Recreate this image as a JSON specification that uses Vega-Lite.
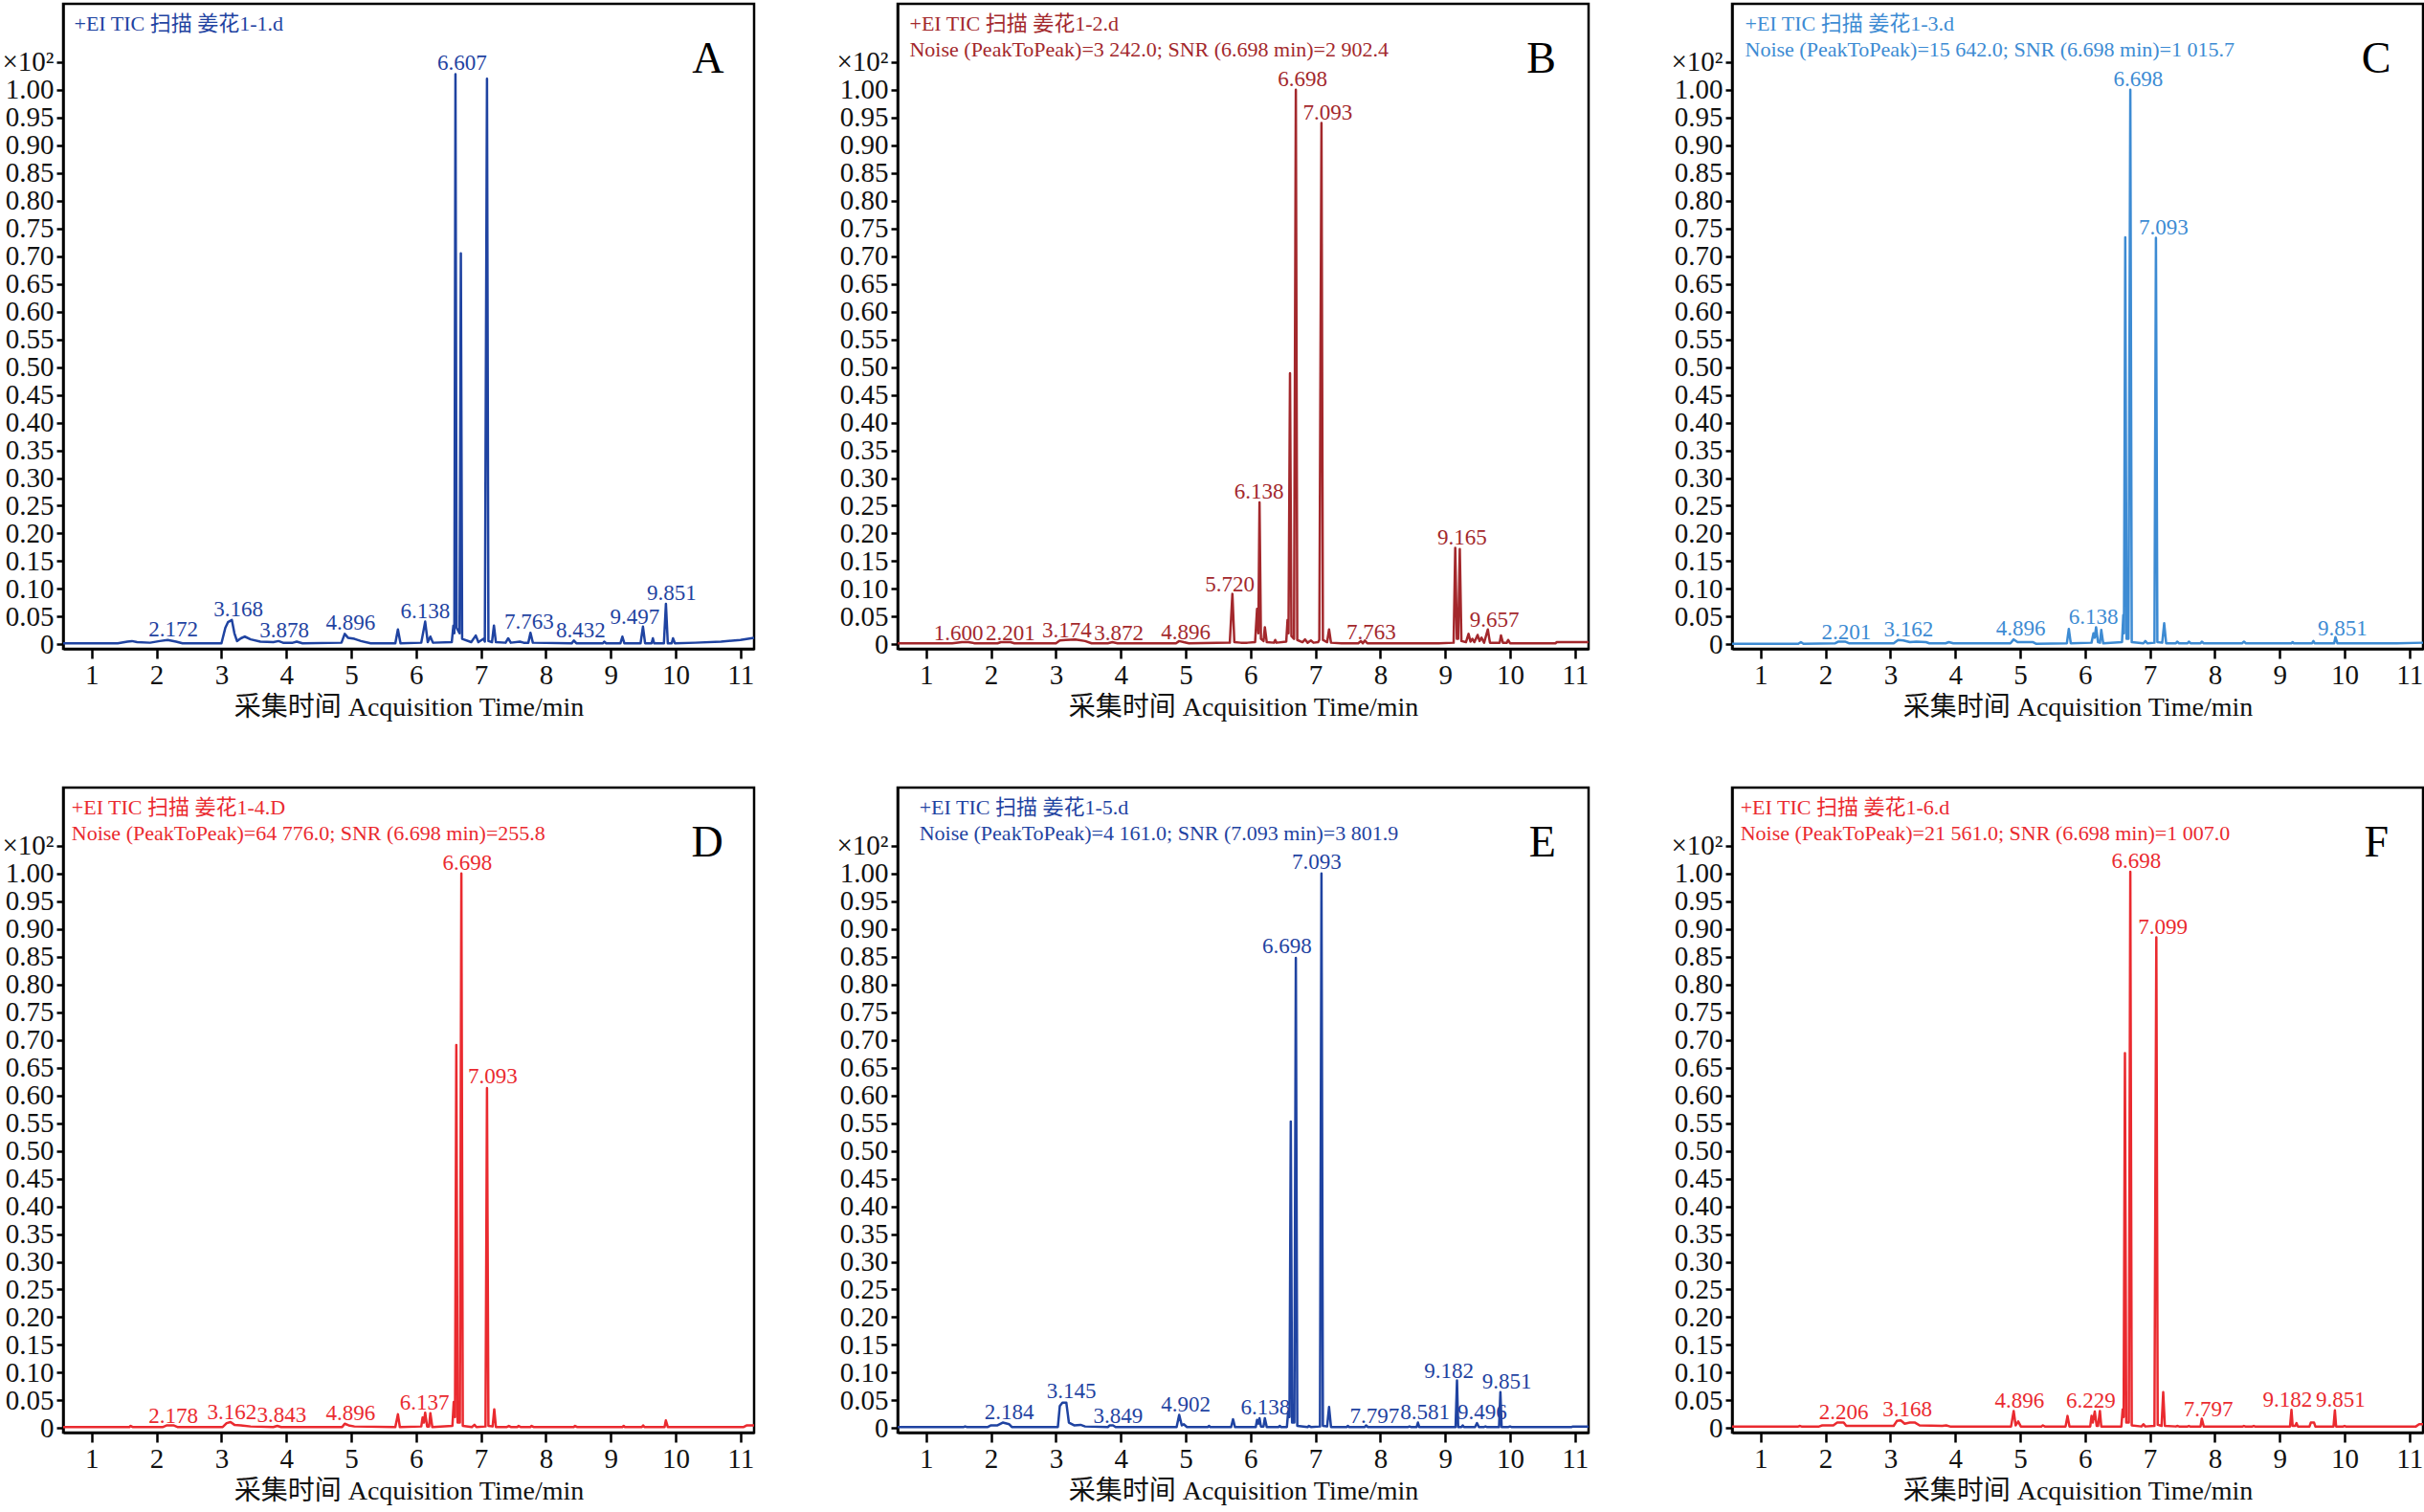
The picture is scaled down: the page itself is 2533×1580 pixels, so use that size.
{
  "$schema": "https://vega.github.io/schema/vega-lite/v6.json",
  "background": "white",
  "padding": {"left": 0, "top": 2, "right": 2, "bottom": 0},
  "datasets": {
    "trace": [
      {"p":"A","t":0.56,"y":0.002},{"p":"A","t":1.4,"y":0.002},{"p":"A","t":1.55,"y":0.005},{"p":"A","t":1.62,"y":0.006},{"p":"A","t":1.7,"y":0.004},{"p":"A","t":1.9,"y":0.003},{"p":"A","t":2.05,"y":0.006},{"p":"A","t":2.17,"y":0.008},{"p":"A","t":2.3,"y":0.005},{"p":"A","t":2.4,"y":0.002},
      {"p":"A","t":3.0,"y":0.002},{"p":"A","t":3.06,"y":0.03},{"p":"A","t":3.1,"y":0.04},{"p":"A","t":3.16,"y":0.044},{"p":"A","t":3.2,"y":0.02},{"p":"A","t":3.24,"y":0.006},{"p":"A","t":3.3,"y":0.011},{"p":"A","t":3.36,"y":0.014},{"p":"A","t":3.45,"y":0.009},{"p":"A","t":3.6,"y":0.005},
      {"p":"A","t":3.8,"y":0.004},{"p":"A","t":3.88,"y":0.006},{"p":"A","t":3.95,"y":0.003},{"p":"A","t":4.1,"y":0.003},{"p":"A","t":4.16,"y":0.005},{"p":"A","t":4.25,"y":0.002},{"p":"A","t":4.85,"y":0.003},{"p":"A","t":4.9,"y":0.019},{"p":"A","t":4.95,"y":0.012},{"p":"A","t":5.05,"y":0.01},
      {"p":"A","t":5.15,"y":0.006},{"p":"A","t":5.3,"y":0.002},{"p":"A","t":5.68,"y":0.002},{"p":"A","t":5.72,"y":0.027},{"p":"A","t":5.76,"y":0.002},{"p":"A","t":6.08,"y":0.003},{"p":"A","t":6.14,"y":0.041},{"p":"A","t":6.18,"y":0.004},{"p":"A","t":6.22,"y":0.014},{"p":"A","t":6.26,"y":0.003},
      {"p":"A","t":6.55,"y":0.004},{"p":"A","t":6.575,"y":0.034},{"p":"A","t":6.59,"y":0.02},{"p":"A","t":6.607,"y":1.028},{"p":"A","t":6.625,"y":0.03},{"p":"A","t":6.67,"y":0.02},{"p":"A","t":6.69,"y":0.705},{"p":"A","t":6.71,"y":0.01},{"p":"A","t":6.85,"y":0.004},{"p":"A","t":6.92,"y":0.016},
      {"p":"A","t":6.96,"y":0.004},{"p":"A","t":7.04,"y":0.01},{"p":"A","t":7.06,"y":0.005},{"p":"A","t":7.093,"y":1.02},{"p":"A","t":7.115,"y":0.006},{"p":"A","t":7.17,"y":0.004},{"p":"A","t":7.2,"y":0.034},{"p":"A","t":7.23,"y":0.004},{"p":"A","t":7.38,"y":0.003},{"p":"A","t":7.42,"y":0.011},
      {"p":"A","t":7.46,"y":0.003},{"p":"A","t":7.6,"y":0.005},{"p":"A","t":7.66,"y":0.003},{"p":"A","t":7.73,"y":0.003},{"p":"A","t":7.763,"y":0.021},{"p":"A","t":7.8,"y":0.003},{"p":"A","t":8.4,"y":0.002},{"p":"A","t":8.432,"y":0.007},{"p":"A","t":8.47,"y":0.002},{"p":"A","t":8.88,"y":0.002},
      {"p":"A","t":8.9,"y":0.005},{"p":"A","t":8.93,"y":0.002},{"p":"A","t":9.15,"y":0.002},{"p":"A","t":9.18,"y":0.014},{"p":"A","t":9.21,"y":0.002},{"p":"A","t":9.46,"y":0.002},{"p":"A","t":9.497,"y":0.032},{"p":"A","t":9.53,"y":0.002},{"p":"A","t":9.63,"y":0.002},{"p":"A","t":9.65,"y":0.011},
      {"p":"A","t":9.67,"y":0.002},{"p":"A","t":9.82,"y":0.002},{"p":"A","t":9.851,"y":0.073},{"p":"A","t":9.88,"y":0.002},{"p":"A","t":9.94,"y":0.002},{"p":"A","t":9.96,"y":0.011},{"p":"A","t":9.99,"y":0.002},{"p":"A","t":10.3,"y":0.003},{"p":"A","t":10.7,"y":0.005},{"p":"A","t":11.0,"y":0.008},{"p":"A","t":11.21,"y":0.012},

      {"p":"B","t":0.56,"y":0.002},{"p":"B","t":1.4,"y":0.002},{"p":"B","t":1.55,"y":0.004},{"p":"B","t":1.65,"y":0.004},{"p":"B","t":1.75,"y":0.002},{"p":"B","t":2.1,"y":0.002},{"p":"B","t":2.15,"y":0.004},{"p":"B","t":2.3,"y":0.004},{"p":"B","t":2.36,"y":0.002},{"p":"B","t":3.0,"y":0.002},
      {"p":"B","t":3.06,"y":0.007},{"p":"B","t":3.15,"y":0.008},{"p":"B","t":3.3,"y":0.009},{"p":"B","t":3.45,"y":0.006},{"p":"B","t":3.55,"y":0.002},{"p":"B","t":3.8,"y":0.002},{"p":"B","t":3.87,"y":0.004},{"p":"B","t":3.95,"y":0.002},{"p":"B","t":4.85,"y":0.002},{"p":"B","t":4.9,"y":0.006},
      {"p":"B","t":4.97,"y":0.004},{"p":"B","t":5.05,"y":0.002},{"p":"B","t":5.68,"y":0.003},{"p":"B","t":5.72,"y":0.091},{"p":"B","t":5.75,"y":0.004},{"p":"B","t":5.85,"y":0.003},{"p":"B","t":5.95,"y":0.003},{"p":"B","t":6.07,"y":0.004},{"p":"B","t":6.1,"y":0.064},{"p":"B","t":6.12,"y":0.02},
      {"p":"B","t":6.138,"y":0.256},{"p":"B","t":6.16,"y":0.01},{"p":"B","t":6.2,"y":0.006},{"p":"B","t":6.22,"y":0.031},{"p":"B","t":6.25,"y":0.004},{"p":"B","t":6.36,"y":0.003},{"p":"B","t":6.38,"y":0.008},{"p":"B","t":6.4,"y":0.003},{"p":"B","t":6.55,"y":0.005},{"p":"B","t":6.57,"y":0.044},
      {"p":"B","t":6.585,"y":0.02},{"p":"B","t":6.608,"y":0.489},{"p":"B","t":6.63,"y":0.015},{"p":"B","t":6.67,"y":0.01},{"p":"B","t":6.698,"y":1.0},{"p":"B","t":6.72,"y":0.008},{"p":"B","t":6.8,"y":0.004},{"p":"B","t":6.84,"y":0.009},{"p":"B","t":6.88,"y":0.003},{"p":"B","t":6.93,"y":0.007},
      {"p":"B","t":6.97,"y":0.003},{"p":"B","t":7.04,"y":0.004},{"p":"B","t":7.06,"y":0.008},{"p":"B","t":7.093,"y":0.94},{"p":"B","t":7.115,"y":0.008},{"p":"B","t":7.18,"y":0.004},{"p":"B","t":7.21,"y":0.027},{"p":"B","t":7.24,"y":0.003},{"p":"B","t":7.4,"y":0.002},{"p":"B","t":7.66,"y":0.002},
      {"p":"B","t":7.7,"y":0.006},{"p":"B","t":7.73,"y":0.002},{"p":"B","t":7.763,"y":0.007},{"p":"B","t":7.8,"y":0.002},{"p":"B","t":8.9,"y":0.002},{"p":"B","t":9.13,"y":0.003},{"p":"B","t":9.155,"y":0.174},{"p":"B","t":9.18,"y":0.01},{"p":"B","t":9.2,"y":0.01},{"p":"B","t":9.225,"y":0.172},
      {"p":"B","t":9.25,"y":0.006},{"p":"B","t":9.32,"y":0.004},{"p":"B","t":9.36,"y":0.019},{"p":"B","t":9.39,"y":0.005},{"p":"B","t":9.42,"y":0.01},{"p":"B","t":9.45,"y":0.004},{"p":"B","t":9.5,"y":0.017},{"p":"B","t":9.53,"y":0.006},{"p":"B","t":9.56,"y":0.012},{"p":"B","t":9.6,"y":0.003},
      {"p":"B","t":9.657,"y":0.027},{"p":"B","t":9.69,"y":0.003},{"p":"B","t":9.84,"y":0.003},{"p":"B","t":9.86,"y":0.016},{"p":"B","t":9.89,"y":0.003},{"p":"B","t":9.95,"y":0.003},{"p":"B","t":9.97,"y":0.008},{"p":"B","t":10.0,"y":0.002},{"p":"B","t":10.7,"y":0.002},{"p":"B","t":10.72,"y":0.004},{"p":"B","t":11.21,"y":0.004},

      {"p":"C","t":0.56,"y":0.001},{"p":"C","t":1.58,"y":0.001},{"p":"C","t":1.62,"y":0.004},{"p":"C","t":1.66,"y":0.001},{"p":"C","t":2.15,"y":0.002},{"p":"C","t":2.2,"y":0.005},{"p":"C","t":2.3,"y":0.005},{"p":"C","t":2.36,"y":0.002},{"p":"C","t":3.05,"y":0.002},{"p":"C","t":3.12,"y":0.008},
      {"p":"C","t":3.2,"y":0.007},{"p":"C","t":3.3,"y":0.004},{"p":"C","t":3.4,"y":0.005},{"p":"C","t":3.55,"y":0.004},{"p":"C","t":3.6,"y":0.002},{"p":"C","t":3.85,"y":0.002},{"p":"C","t":3.9,"y":0.004},{"p":"C","t":3.97,"y":0.002},{"p":"C","t":4.85,"y":0.002},{"p":"C","t":4.9,"y":0.009},
      {"p":"C","t":4.96,"y":0.004},{"p":"C","t":5.2,"y":0.004},{"p":"C","t":5.25,"y":0.001},{"p":"C","t":5.72,"y":0.002},{"p":"C","t":5.75,"y":0.028},{"p":"C","t":5.78,"y":0.002},{"p":"C","t":6.1,"y":0.003},{"p":"C","t":6.13,"y":0.02},{"p":"C","t":6.15,"y":0.012},{"p":"C","t":6.17,"y":0.031},
      {"p":"C","t":6.2,"y":0.004},{"p":"C","t":6.23,"y":0.003},{"p":"C","t":6.25,"y":0.026},{"p":"C","t":6.28,"y":0.002},{"p":"C","t":6.57,"y":0.004},{"p":"C","t":6.59,"y":0.053},{"p":"C","t":6.6,"y":0.02},{"p":"C","t":6.62,"y":0.734},{"p":"C","t":6.64,"y":0.01},{"p":"C","t":6.67,"y":0.01},
      {"p":"C","t":6.698,"y":1.0},{"p":"C","t":6.72,"y":0.004},{"p":"C","t":6.9,"y":0.002},{"p":"C","t":6.93,"y":0.006},{"p":"C","t":6.96,"y":0.002},{"p":"C","t":7.07,"y":0.003},{"p":"C","t":7.093,"y":0.733},{"p":"C","t":7.115,"y":0.004},{"p":"C","t":7.19,"y":0.003},{"p":"C","t":7.22,"y":0.038},
      {"p":"C","t":7.25,"y":0.002},{"p":"C","t":7.4,"y":0.002},{"p":"C","t":7.42,"y":0.005},{"p":"C","t":7.45,"y":0.002},{"p":"C","t":7.58,"y":0.002},{"p":"C","t":7.6,"y":0.005},{"p":"C","t":7.63,"y":0.002},{"p":"C","t":7.78,"y":0.002},{"p":"C","t":7.8,"y":0.005},{"p":"C","t":7.83,"y":0.002},
      {"p":"C","t":8.42,"y":0.002},{"p":"C","t":8.45,"y":0.005},{"p":"C","t":8.48,"y":0.002},{"p":"C","t":9.18,"y":0.002},{"p":"C","t":9.2,"y":0.004},{"p":"C","t":9.22,"y":0.002},{"p":"C","t":9.5,"y":0.002},{"p":"C","t":9.52,"y":0.006},{"p":"C","t":9.54,"y":0.002},{"p":"C","t":9.84,"y":0.002},
      {"p":"C","t":9.86,"y":0.013},{"p":"C","t":9.89,"y":0.002},{"p":"C","t":10.8,"y":0.002},{"p":"C","t":11.21,"y":0.003},

      {"p":"D","t":0.56,"y":0.002},{"p":"D","t":1.58,"y":0.002},{"p":"D","t":1.6,"y":0.004},{"p":"D","t":1.63,"y":0.002},{"p":"D","t":2.1,"y":0.002},{"p":"D","t":2.16,"y":0.005},{"p":"D","t":2.26,"y":0.005},{"p":"D","t":2.32,"y":0.002},{"p":"D","t":3.02,"y":0.002},{"p":"D","t":3.08,"y":0.009},
      {"p":"D","t":3.14,"y":0.011},{"p":"D","t":3.2,"y":0.006},{"p":"D","t":3.3,"y":0.005},{"p":"D","t":3.45,"y":0.003},{"p":"D","t":3.8,"y":0.002},{"p":"D","t":3.86,"y":0.004},{"p":"D","t":3.92,"y":0.002},{"p":"D","t":4.86,"y":0.002},{"p":"D","t":4.9,"y":0.008},{"p":"D","t":4.96,"y":0.005},
      {"p":"D","t":5.05,"y":0.003},{"p":"D","t":5.68,"y":0.002},{"p":"D","t":5.72,"y":0.025},{"p":"D","t":5.75,"y":0.002},{"p":"D","t":6.08,"y":0.003},{"p":"D","t":6.1,"y":0.019},{"p":"D","t":6.12,"y":0.01},{"p":"D","t":6.14,"y":0.028},{"p":"D","t":6.17,"y":0.003},{"p":"D","t":6.2,"y":0.003},
      {"p":"D","t":6.22,"y":0.027},{"p":"D","t":6.25,"y":0.002},{"p":"D","t":6.56,"y":0.004},{"p":"D","t":6.58,"y":0.047},{"p":"D","t":6.6,"y":0.02},{"p":"D","t":6.62,"y":0.691},{"p":"D","t":6.64,"y":0.01},{"p":"D","t":6.675,"y":0.01},{"p":"D","t":6.698,"y":1.0},{"p":"D","t":6.72,"y":0.004},
      {"p":"D","t":6.86,"y":0.002},{"p":"D","t":6.9,"y":0.006},{"p":"D","t":6.93,"y":0.002},{"p":"D","t":7.07,"y":0.003},{"p":"D","t":7.093,"y":0.613},{"p":"D","t":7.115,"y":0.004},{"p":"D","t":7.18,"y":0.003},{"p":"D","t":7.205,"y":0.034},{"p":"D","t":7.23,"y":0.002},{"p":"D","t":7.4,"y":0.002},
      {"p":"D","t":7.43,"y":0.004},{"p":"D","t":7.46,"y":0.002},{"p":"D","t":7.56,"y":0.002},{"p":"D","t":7.58,"y":0.004},{"p":"D","t":7.61,"y":0.002},{"p":"D","t":7.76,"y":0.002},{"p":"D","t":7.78,"y":0.004},{"p":"D","t":7.81,"y":0.002},{"p":"D","t":8.43,"y":0.002},{"p":"D","t":8.45,"y":0.004},
      {"p":"D","t":8.48,"y":0.002},{"p":"D","t":9.18,"y":0.002},{"p":"D","t":9.2,"y":0.004},{"p":"D","t":9.22,"y":0.002},{"p":"D","t":9.48,"y":0.002},{"p":"D","t":9.5,"y":0.005},{"p":"D","t":9.52,"y":0.002},{"p":"D","t":9.83,"y":0.002},{"p":"D","t":9.85,"y":0.014},{"p":"D","t":9.88,"y":0.002},
      {"p":"D","t":11.05,"y":0.002},{"p":"D","t":11.1,"y":0.005},{"p":"D","t":11.21,"y":0.005},

      {"p":"E","t":0.56,"y":0.002},{"p":"E","t":1.58,"y":0.002},{"p":"E","t":1.6,"y":0.003},{"p":"E","t":1.63,"y":0.002},{"p":"E","t":1.95,"y":0.002},{"p":"E","t":2.0,"y":0.005},{"p":"E","t":2.1,"y":0.005},{"p":"E","t":2.18,"y":0.01},{"p":"E","t":2.28,"y":0.007},{"p":"E","t":2.32,"y":0.002},
      {"p":"E","t":3.03,"y":0.002},{"p":"E","t":3.06,"y":0.04},{"p":"E","t":3.1,"y":0.046},{"p":"E","t":3.16,"y":0.046},{"p":"E","t":3.2,"y":0.01},{"p":"E","t":3.28,"y":0.005},{"p":"E","t":3.38,"y":0.006},{"p":"E","t":3.45,"y":0.003},{"p":"E","t":3.8,"y":0.002},{"p":"E","t":3.83,"y":0.005},
      {"p":"E","t":3.88,"y":0.005},{"p":"E","t":3.92,"y":0.002},{"p":"E","t":4.86,"y":0.002},{"p":"E","t":4.9,"y":0.024},{"p":"E","t":4.94,"y":0.005},{"p":"E","t":4.97,"y":0.007},{"p":"E","t":5.02,"y":0.002},{"p":"E","t":5.34,"y":0.002},{"p":"E","t":5.36,"y":0.004},{"p":"E","t":5.38,"y":0.002},
      {"p":"E","t":5.7,"y":0.002},{"p":"E","t":5.73,"y":0.016},{"p":"E","t":5.76,"y":0.002},{"p":"E","t":6.08,"y":0.002},{"p":"E","t":6.1,"y":0.015},{"p":"E","t":6.12,"y":0.008},{"p":"E","t":6.138,"y":0.018},{"p":"E","t":6.16,"y":0.003},{"p":"E","t":6.2,"y":0.003},{"p":"E","t":6.22,"y":0.018},
      {"p":"E","t":6.25,"y":0.002},{"p":"E","t":6.43,"y":0.002},{"p":"E","t":6.45,"y":0.004},{"p":"E","t":6.47,"y":0.002},{"p":"E","t":6.56,"y":0.002},{"p":"E","t":6.58,"y":0.03},{"p":"E","t":6.6,"y":0.02},{"p":"E","t":6.62,"y":0.553},{"p":"E","t":6.64,"y":0.01},{"p":"E","t":6.675,"y":0.01},
      {"p":"E","t":6.698,"y":0.848},{"p":"E","t":6.72,"y":0.004},{"p":"E","t":6.88,"y":0.002},{"p":"E","t":6.9,"y":0.004},{"p":"E","t":6.93,"y":0.002},{"p":"E","t":7.07,"y":0.003},{"p":"E","t":7.093,"y":1.0},{"p":"E","t":7.115,"y":0.004},{"p":"E","t":7.18,"y":0.003},{"p":"E","t":7.21,"y":0.038},
      {"p":"E","t":7.24,"y":0.002},{"p":"E","t":7.48,"y":0.002},{"p":"E","t":7.5,"y":0.004},{"p":"E","t":7.52,"y":0.002},{"p":"E","t":7.76,"y":0.002},{"p":"E","t":7.78,"y":0.005},{"p":"E","t":7.81,"y":0.002},{"p":"E","t":8.43,"y":0.002},{"p":"E","t":8.45,"y":0.003},{"p":"E","t":8.47,"y":0.002},
      {"p":"E","t":8.56,"y":0.002},{"p":"E","t":8.58,"y":0.01},{"p":"E","t":8.6,"y":0.002},{"p":"E","t":9.16,"y":0.002},{"p":"E","t":9.182,"y":0.086},{"p":"E","t":9.2,"y":0.002},{"p":"E","t":9.25,"y":0.002},{"p":"E","t":9.27,"y":0.005},{"p":"E","t":9.29,"y":0.002},{"p":"E","t":9.46,"y":0.002},
      {"p":"E","t":9.49,"y":0.009},{"p":"E","t":9.52,"y":0.002},{"p":"E","t":9.6,"y":0.002},{"p":"E","t":9.62,"y":0.003},{"p":"E","t":9.64,"y":0.002},{"p":"E","t":9.83,"y":0.002},{"p":"E","t":9.851,"y":0.065},{"p":"E","t":9.87,"y":0.002},{"p":"E","t":9.97,"y":0.002},{"p":"E","t":10.0,"y":0.003},
      {"p":"E","t":10.02,"y":0.002},{"p":"E","t":10.95,"y":0.002},{"p":"E","t":10.97,"y":0.003},{"p":"E","t":11.21,"y":0.003},

      {"p":"F","t":0.56,"y":0.003},{"p":"F","t":1.58,"y":0.003},{"p":"F","t":1.6,"y":0.004},{"p":"F","t":1.63,"y":0.003},{"p":"F","t":1.9,"y":0.003},{"p":"F","t":1.95,"y":0.005},{"p":"F","t":2.12,"y":0.005},{"p":"F","t":2.18,"y":0.01},{"p":"F","t":2.28,"y":0.01},{"p":"F","t":2.32,"y":0.004},
      {"p":"F","t":2.5,"y":0.004},{"p":"F","t":3.05,"y":0.004},{"p":"F","t":3.1,"y":0.013},{"p":"F","t":3.16,"y":0.014},{"p":"F","t":3.22,"y":0.008},{"p":"F","t":3.3,"y":0.01},{"p":"F","t":3.38,"y":0.01},{"p":"F","t":3.45,"y":0.005},{"p":"F","t":3.8,"y":0.004},{"p":"F","t":3.86,"y":0.005},
      {"p":"F","t":3.92,"y":0.003},{"p":"F","t":4.86,"y":0.003},{"p":"F","t":4.9,"y":0.031},{"p":"F","t":4.93,"y":0.005},{"p":"F","t":4.97,"y":0.012},{"p":"F","t":5.01,"y":0.003},{"p":"F","t":5.33,"y":0.003},{"p":"F","t":5.35,"y":0.005},{"p":"F","t":5.38,"y":0.003},{"p":"F","t":5.7,"y":0.003},
      {"p":"F","t":5.73,"y":0.022},{"p":"F","t":5.76,"y":0.003},{"p":"F","t":6.08,"y":0.003},{"p":"F","t":6.1,"y":0.022},{"p":"F","t":6.12,"y":0.01},{"p":"F","t":6.15,"y":0.03},{"p":"F","t":6.18,"y":0.004},{"p":"F","t":6.2,"y":0.004},{"p":"F","t":6.229,"y":0.031},{"p":"F","t":6.25,"y":0.003},
      {"p":"F","t":6.56,"y":0.003},{"p":"F","t":6.58,"y":0.034},{"p":"F","t":6.595,"y":0.02},{"p":"F","t":6.615,"y":0.676},{"p":"F","t":6.635,"y":0.01},{"p":"F","t":6.675,"y":0.01},{"p":"F","t":6.698,"y":1.003},{"p":"F","t":6.72,"y":0.005},{"p":"F","t":6.87,"y":0.003},{"p":"F","t":6.9,"y":0.007},
      {"p":"F","t":6.93,"y":0.003},{"p":"F","t":7.07,"y":0.004},{"p":"F","t":7.099,"y":0.885},{"p":"F","t":7.12,"y":0.006},{"p":"F","t":7.18,"y":0.004},{"p":"F","t":7.205,"y":0.065},{"p":"F","t":7.23,"y":0.004},{"p":"F","t":7.4,"y":0.003},{"p":"F","t":7.42,"y":0.004},{"p":"F","t":7.45,"y":0.003},
      {"p":"F","t":7.58,"y":0.003},{"p":"F","t":7.6,"y":0.004},{"p":"F","t":7.62,"y":0.003},{"p":"F","t":7.78,"y":0.003},{"p":"F","t":7.8,"y":0.017},{"p":"F","t":7.83,"y":0.003},{"p":"F","t":8.43,"y":0.003},{"p":"F","t":8.45,"y":0.004},{"p":"F","t":8.47,"y":0.003},{"p":"F","t":8.58,"y":0.003},
      {"p":"F","t":8.6,"y":0.004},{"p":"F","t":8.62,"y":0.003},{"p":"F","t":9.16,"y":0.003},{"p":"F","t":9.182,"y":0.033},{"p":"F","t":9.2,"y":0.004},{"p":"F","t":9.24,"y":0.004},{"p":"F","t":9.26,"y":0.009},{"p":"F","t":9.28,"y":0.003},{"p":"F","t":9.46,"y":0.003},{"p":"F","t":9.48,"y":0.01},
      {"p":"F","t":9.53,"y":0.01},{"p":"F","t":9.55,"y":0.003},{"p":"F","t":9.83,"y":0.003},{"p":"F","t":9.851,"y":0.032},{"p":"F","t":9.87,"y":0.003},{"p":"F","t":9.98,"y":0.003},{"p":"F","t":10.0,"y":0.004},{"p":"F","t":10.02,"y":0.003},{"p":"F","t":11.1,"y":0.003},{"p":"F","t":11.15,"y":0.007},{"p":"F","t":11.21,"y":0.007}
    ],
    "peaks": [
      {"p":"A","t":2.26,"y":0.014,"text":"2.172"},{"p":"A","t":3.26,"y":0.051,"text":"3.168"},{"p":"A","t":3.97,"y":0.013,"text":"3.878"},{"p":"A","t":4.99,"y":0.026,"text":"4.896"},{"p":"A","t":6.14,"y":0.048,"text":"6.138"},{"p":"A","t":6.71,"y":1.036,"text":"6.607"},{"p":"A","t":7.74,"y":0.028,"text":"7.763"},{"p":"A","t":8.54,"y":0.013,"text":"8.432"},{"p":"A","t":9.37,"y":0.037,"text":"9.497"},{"p":"A","t":9.94,"y":0.08,"text":"9.851"},
      {"p":"B","t":1.5,"y":0.008,"text":"1.600"},{"p":"B","t":2.3,"y":0.008,"text":"2.201"},{"p":"B","t":3.17,"y":0.013,"text":"3.174"},{"p":"B","t":3.97,"y":0.008,"text":"3.872"},{"p":"B","t":5.0,"y":0.01,"text":"4.896"},{"p":"B","t":5.68,"y":0.096,"text":"5.720"},{"p":"B","t":6.13,"y":0.263,"text":"6.138"},{"p":"B","t":6.8,"y":1.007,"text":"6.698"},{"p":"B","t":7.19,"y":0.946,"text":"7.093"},{"p":"B","t":7.86,"y":0.01,"text":"7.763"},{"p":"B","t":9.26,"y":0.18,"text":"9.165"},{"p":"B","t":9.76,"y":0.032,"text":"9.657"},
      {"p":"C","t":2.32,"y":0.01,"text":"2.201"},{"p":"C","t":3.28,"y":0.014,"text":"3.162"},{"p":"C","t":5.01,"y":0.016,"text":"4.896"},{"p":"C","t":6.13,"y":0.037,"text":"6.138"},{"p":"C","t":6.82,"y":1.007,"text":"6.698"},{"p":"C","t":7.21,"y":0.74,"text":"7.093"},{"p":"C","t":9.97,"y":0.016,"text":"9.851"},
      {"p":"D","t":2.26,"y":0.01,"text":"2.178"},{"p":"D","t":3.16,"y":0.017,"text":"3.162"},{"p":"D","t":3.93,"y":0.011,"text":"3.843"},{"p":"D","t":4.99,"y":0.014,"text":"4.896"},{"p":"D","t":6.13,"y":0.033,"text":"6.137"},{"p":"D","t":6.79,"y":1.007,"text":"6.698"},{"p":"D","t":7.18,"y":0.621,"text":"7.093"},
      {"p":"E","t":2.28,"y":0.017,"text":"2.184"},{"p":"E","t":3.24,"y":0.054,"text":"3.145"},{"p":"E","t":3.96,"y":0.01,"text":"3.849"},{"p":"E","t":5.0,"y":0.03,"text":"4.902"},{"p":"E","t":6.23,"y":0.024,"text":"6.138"},{"p":"E","t":6.56,"y":0.856,"text":"6.698"},{"p":"E","t":7.02,"y":1.008,"text":"7.093"},{"p":"E","t":7.91,"y":0.01,"text":"7.797"},{"p":"E","t":8.69,"y":0.017,"text":"8.581"},{"p":"E","t":9.06,"y":0.091,"text":"9.182"},{"p":"E","t":9.57,"y":0.017,"text":"9.496"},{"p":"E","t":9.95,"y":0.072,"text":"9.851"},
      {"p":"F","t":2.28,"y":0.017,"text":"2.206"},{"p":"F","t":3.26,"y":0.021,"text":"3.168"},{"p":"F","t":4.99,"y":0.037,"text":"4.896"},{"p":"F","t":6.09,"y":0.037,"text":"6.229"},{"p":"F","t":6.79,"y":1.01,"text":"6.698"},{"p":"F","t":7.2,"y":0.891,"text":"7.099"},{"p":"F","t":7.9,"y":0.021,"text":"7.797"},{"p":"F","t":9.12,"y":0.039,"text":"9.182"},{"p":"F","t":9.94,"y":0.039,"text":"9.851"}
    ],
    "notes": [
      {"p":"A","kind":"head","t":0.73,"y":1.119,"text":"+EI TIC 扫描 姜花1-1.d"},
      {"p":"A","kind":"letter","t":10.5,"y":1.055,"text":"A"},
      {"p":"B","kind":"head","t":0.744,"y":1.119,"text":"+EI TIC 扫描 姜花1-2.d"},
      {"p":"B","kind":"head","t":0.744,"y":1.073,"text":"Noise (PeakToPeak)=3 242.0; SNR (6.698 min)=2 902.4"},
      {"p":"B","kind":"letter","t":10.48,"y":1.055,"text":"B"},
      {"p":"C","kind":"head","t":0.759,"y":1.119,"text":"+EI TIC 扫描 姜花1-3.d"},
      {"p":"C","kind":"head","t":0.759,"y":1.073,"text":"Noise (PeakToPeak)=15 642.0; SNR (6.698 min)=1 015.7"},
      {"p":"C","kind":"letter","t":10.49,"y":1.055,"text":"C"},
      {"p":"D","kind":"head","t":0.69,"y":1.119,"text":"+EI TIC 扫描 姜花1-4.D"},
      {"p":"D","kind":"head","t":0.69,"y":1.073,"text":"Noise (PeakToPeak)=64 776.0; SNR (6.698 min)=255.8"},
      {"p":"D","kind":"letter","t":10.49,"y":1.055,"text":"D"},
      {"p":"E","kind":"head","t":0.895,"y":1.119,"text":"+EI TIC 扫描 姜花1-5.d"},
      {"p":"E","kind":"head","t":0.895,"y":1.073,"text":"Noise (PeakToPeak)=4 161.0; SNR (7.093 min)=3 801.9"},
      {"p":"E","kind":"letter","t":10.5,"y":1.055,"text":"E"},
      {"p":"F","kind":"head","t":0.688,"y":1.119,"text":"+EI TIC 扫描 姜花1-6.d"},
      {"p":"F","kind":"head","t":0.688,"y":1.073,"text":"Noise (PeakToPeak)=21 561.0; SNR (6.698 min)=1 007.0"},
      {"p":"F","kind":"letter","t":10.49,"y":1.055,"text":"F"}
    ]
  },
  "columns": 3,
  "spacing": {"column": 150, "row": 145},
  "bounds": "flush",
  "concat": [
    {
      "width": 722, "height": 674,
      "encoding": {
        "x": {"field": "t", "type": "quantitative", "scale": {"domain": [0.56, 11.21], "nice": false, "zero": false}, "axis": {"values": [1,2,3,4,5,6,7,8,9,10,11], "title": "采集时间 Acquisition Time/min"}},
        "y": {"field": "y", "type": "quantitative", "scale": {"domain": [-0.008, 1.155], "nice": false, "zero": false}, "axis": {"values": [0,0.05,0.1,0.15,0.2,0.25,0.3,0.35,0.4,0.45,0.5,0.55,0.6,0.65,0.7,0.75,0.8,0.85,0.9,0.95,1,1.05], "labelExpr": "datum.value > 1.02 ? '×10²' : datum.value == 0 ? '0' : format(datum.value, '.2f')", "title": null}}
      },
      "layer": [
        {"data": {"name": "trace"}, "transform": [{"filter": "datum.p == 'A'"}], "mark": {"type": "line", "color": "#1f43a1", "strokeWidth": 2.5, "strokeJoin": "round"}},
        {"data": {"name": "peaks"}, "transform": [{"filter": "datum.p == 'A'"}], "mark": {"type": "text", "color": "#1f43a1", "fontSize": 23, "baseline": "alphabetic"}, "encoding": {"text": {"field": "text"}}},
        {"data": {"name": "notes"}, "transform": [{"filter": "datum.p == 'A' && datum.kind == 'head'"}], "mark": {"type": "text", "color": "#1f43a1", "fontSize": 22, "align": "left", "baseline": "middle"}, "encoding": {"text": {"field": "text"}}},
        {"data": {"name": "notes"}, "transform": [{"filter": "datum.p == 'A' && datum.kind == 'letter'"}], "mark": {"type": "text", "color": "#000000", "fontSize": 46, "baseline": "middle"}, "encoding": {"text": {"field": "text"}}}
      ]
    },
    {
      "width": 722, "height": 674,
      "encoding": {
        "x": {"field": "t", "type": "quantitative", "scale": {"domain": [0.56, 11.21], "nice": false, "zero": false}, "axis": {"values": [1,2,3,4,5,6,7,8,9,10,11], "title": "采集时间 Acquisition Time/min"}},
        "y": {"field": "y", "type": "quantitative", "scale": {"domain": [-0.008, 1.155], "nice": false, "zero": false}, "axis": {"values": [0,0.05,0.1,0.15,0.2,0.25,0.3,0.35,0.4,0.45,0.5,0.55,0.6,0.65,0.7,0.75,0.8,0.85,0.9,0.95,1,1.05], "labelExpr": "datum.value > 1.02 ? '×10²' : datum.value == 0 ? '0' : format(datum.value, '.2f')", "title": null}}
      },
      "layer": [
        {"data": {"name": "trace"}, "transform": [{"filter": "datum.p == 'B'"}], "mark": {"type": "line", "color": "#a3282c", "strokeWidth": 2.5, "strokeJoin": "round"}},
        {"data": {"name": "peaks"}, "transform": [{"filter": "datum.p == 'B'"}], "mark": {"type": "text", "color": "#a3282c", "fontSize": 23, "baseline": "alphabetic"}, "encoding": {"text": {"field": "text"}}},
        {"data": {"name": "notes"}, "transform": [{"filter": "datum.p == 'B' && datum.kind == 'head'"}], "mark": {"type": "text", "color": "#a3282c", "fontSize": 22, "align": "left", "baseline": "middle"}, "encoding": {"text": {"field": "text"}}},
        {"data": {"name": "notes"}, "transform": [{"filter": "datum.p == 'B' && datum.kind == 'letter'"}], "mark": {"type": "text", "color": "#000000", "fontSize": 46, "baseline": "middle"}, "encoding": {"text": {"field": "text"}}}
      ]
    },
    {
      "width": 722, "height": 674,
      "encoding": {
        "x": {"field": "t", "type": "quantitative", "scale": {"domain": [0.56, 11.21], "nice": false, "zero": false}, "axis": {"values": [1,2,3,4,5,6,7,8,9,10,11], "title": "采集时间 Acquisition Time/min"}},
        "y": {"field": "y", "type": "quantitative", "scale": {"domain": [-0.008, 1.155], "nice": false, "zero": false}, "axis": {"values": [0,0.05,0.1,0.15,0.2,0.25,0.3,0.35,0.4,0.45,0.5,0.55,0.6,0.65,0.7,0.75,0.8,0.85,0.9,0.95,1,1.05], "labelExpr": "datum.value > 1.02 ? '×10²' : datum.value == 0 ? '0' : format(datum.value, '.2f')", "title": null}}
      },
      "layer": [
        {"data": {"name": "trace"}, "transform": [{"filter": "datum.p == 'C'"}], "mark": {"type": "line", "color": "#3d8bd3", "strokeWidth": 2.5, "strokeJoin": "round"}},
        {"data": {"name": "peaks"}, "transform": [{"filter": "datum.p == 'C'"}], "mark": {"type": "text", "color": "#3d8bd3", "fontSize": 23, "baseline": "alphabetic"}, "encoding": {"text": {"field": "text"}}},
        {"data": {"name": "notes"}, "transform": [{"filter": "datum.p == 'C' && datum.kind == 'head'"}], "mark": {"type": "text", "color": "#3d8bd3", "fontSize": 22, "align": "left", "baseline": "middle"}, "encoding": {"text": {"field": "text"}}},
        {"data": {"name": "notes"}, "transform": [{"filter": "datum.p == 'C' && datum.kind == 'letter'"}], "mark": {"type": "text", "color": "#000000", "fontSize": 46, "baseline": "middle"}, "encoding": {"text": {"field": "text"}}}
      ]
    },
    {
      "width": 722, "height": 674,
      "encoding": {
        "x": {"field": "t", "type": "quantitative", "scale": {"domain": [0.56, 11.21], "nice": false, "zero": false}, "axis": {"values": [1,2,3,4,5,6,7,8,9,10,11], "title": "采集时间 Acquisition Time/min"}},
        "y": {"field": "y", "type": "quantitative", "scale": {"domain": [-0.008, 1.155], "nice": false, "zero": false}, "axis": {"values": [0,0.05,0.1,0.15,0.2,0.25,0.3,0.35,0.4,0.45,0.5,0.55,0.6,0.65,0.7,0.75,0.8,0.85,0.9,0.95,1,1.05], "labelExpr": "datum.value > 1.02 ? '×10²' : datum.value == 0 ? '0' : format(datum.value, '.2f')", "title": null}}
      },
      "layer": [
        {"data": {"name": "trace"}, "transform": [{"filter": "datum.p == 'D'"}], "mark": {"type": "line", "color": "#ea2a2f", "strokeWidth": 2.5, "strokeJoin": "round"}},
        {"data": {"name": "peaks"}, "transform": [{"filter": "datum.p == 'D'"}], "mark": {"type": "text", "color": "#ea2a2f", "fontSize": 23, "baseline": "alphabetic"}, "encoding": {"text": {"field": "text"}}},
        {"data": {"name": "notes"}, "transform": [{"filter": "datum.p == 'D' && datum.kind == 'head'"}], "mark": {"type": "text", "color": "#ea2a2f", "fontSize": 22, "align": "left", "baseline": "middle"}, "encoding": {"text": {"field": "text"}}},
        {"data": {"name": "notes"}, "transform": [{"filter": "datum.p == 'D' && datum.kind == 'letter'"}], "mark": {"type": "text", "color": "#000000", "fontSize": 46, "baseline": "middle"}, "encoding": {"text": {"field": "text"}}}
      ]
    },
    {
      "width": 722, "height": 674,
      "encoding": {
        "x": {"field": "t", "type": "quantitative", "scale": {"domain": [0.56, 11.21], "nice": false, "zero": false}, "axis": {"values": [1,2,3,4,5,6,7,8,9,10,11], "title": "采集时间 Acquisition Time/min"}},
        "y": {"field": "y", "type": "quantitative", "scale": {"domain": [-0.008, 1.155], "nice": false, "zero": false}, "axis": {"values": [0,0.05,0.1,0.15,0.2,0.25,0.3,0.35,0.4,0.45,0.5,0.55,0.6,0.65,0.7,0.75,0.8,0.85,0.9,0.95,1,1.05], "labelExpr": "datum.value > 1.02 ? '×10²' : datum.value == 0 ? '0' : format(datum.value, '.2f')", "title": null}}
      },
      "layer": [
        {"data": {"name": "trace"}, "transform": [{"filter": "datum.p == 'E'"}], "mark": {"type": "line", "color": "#1f43a1", "strokeWidth": 2.5, "strokeJoin": "round"}},
        {"data": {"name": "peaks"}, "transform": [{"filter": "datum.p == 'E'"}], "mark": {"type": "text", "color": "#1f43a1", "fontSize": 23, "baseline": "alphabetic"}, "encoding": {"text": {"field": "text"}}},
        {"data": {"name": "notes"}, "transform": [{"filter": "datum.p == 'E' && datum.kind == 'head'"}], "mark": {"type": "text", "color": "#1f43a1", "fontSize": 22, "align": "left", "baseline": "middle"}, "encoding": {"text": {"field": "text"}}},
        {"data": {"name": "notes"}, "transform": [{"filter": "datum.p == 'E' && datum.kind == 'letter'"}], "mark": {"type": "text", "color": "#000000", "fontSize": 46, "baseline": "middle"}, "encoding": {"text": {"field": "text"}}}
      ]
    },
    {
      "width": 722, "height": 674,
      "encoding": {
        "x": {"field": "t", "type": "quantitative", "scale": {"domain": [0.56, 11.21], "nice": false, "zero": false}, "axis": {"values": [1,2,3,4,5,6,7,8,9,10,11], "title": "采集时间 Acquisition Time/min"}},
        "y": {"field": "y", "type": "quantitative", "scale": {"domain": [-0.008, 1.155], "nice": false, "zero": false}, "axis": {"values": [0,0.05,0.1,0.15,0.2,0.25,0.3,0.35,0.4,0.45,0.5,0.55,0.6,0.65,0.7,0.75,0.8,0.85,0.9,0.95,1,1.05], "labelExpr": "datum.value > 1.02 ? '×10²' : datum.value == 0 ? '0' : format(datum.value, '.2f')", "title": null}}
      },
      "layer": [
        {"data": {"name": "trace"}, "transform": [{"filter": "datum.p == 'F'"}], "mark": {"type": "line", "color": "#ea2a2f", "strokeWidth": 2.5, "strokeJoin": "round"}},
        {"data": {"name": "peaks"}, "transform": [{"filter": "datum.p == 'F'"}], "mark": {"type": "text", "color": "#ea2a2f", "fontSize": 23, "baseline": "alphabetic"}, "encoding": {"text": {"field": "text"}}},
        {"data": {"name": "notes"}, "transform": [{"filter": "datum.p == 'F' && datum.kind == 'head'"}], "mark": {"type": "text", "color": "#ea2a2f", "fontSize": 22, "align": "left", "baseline": "middle"}, "encoding": {"text": {"field": "text"}}},
        {"data": {"name": "notes"}, "transform": [{"filter": "datum.p == 'F' && datum.kind == 'letter'"}], "mark": {"type": "text", "color": "#000000", "fontSize": 46, "baseline": "middle"}, "encoding": {"text": {"field": "text"}}}
      ]
    }
  ],
  "config": {
    "font": "'Liberation Serif', 'Noto Sans CJK SC', serif",
    "view": {"stroke": "#000000", "strokeWidth": 2.5},
    "text": {"font": "'Liberation Serif', 'Noto Sans CJK SC', serif"},
    "axis": {
      "labelFont": "'Liberation Serif', 'Noto Sans CJK SC', serif",
      "titleFont": "'Liberation Serif', 'Noto Sans CJK SC', serif",
      "labelColor": "#111111",
      "titleColor": "#111111",
      "domainColor": "#000000",
      "tickColor": "#000000",
      "domainWidth": 2.5,
      "tickWidth": 2.5,
      "grid": false,
      "labelFontWeight": "normal",
      "titleFontWeight": "normal",
      "labelFontSize": 29,
      "titleFontSize": 28,
      "labelOverlap": false
    },
    "axisX": {"tickSize": 10, "labelPadding": 3, "titlePadding": 5, "labelFlush": false},
    "axisY": {"tickSize": 7, "labelPadding": 3, "labelFlush": false}
  }
}
